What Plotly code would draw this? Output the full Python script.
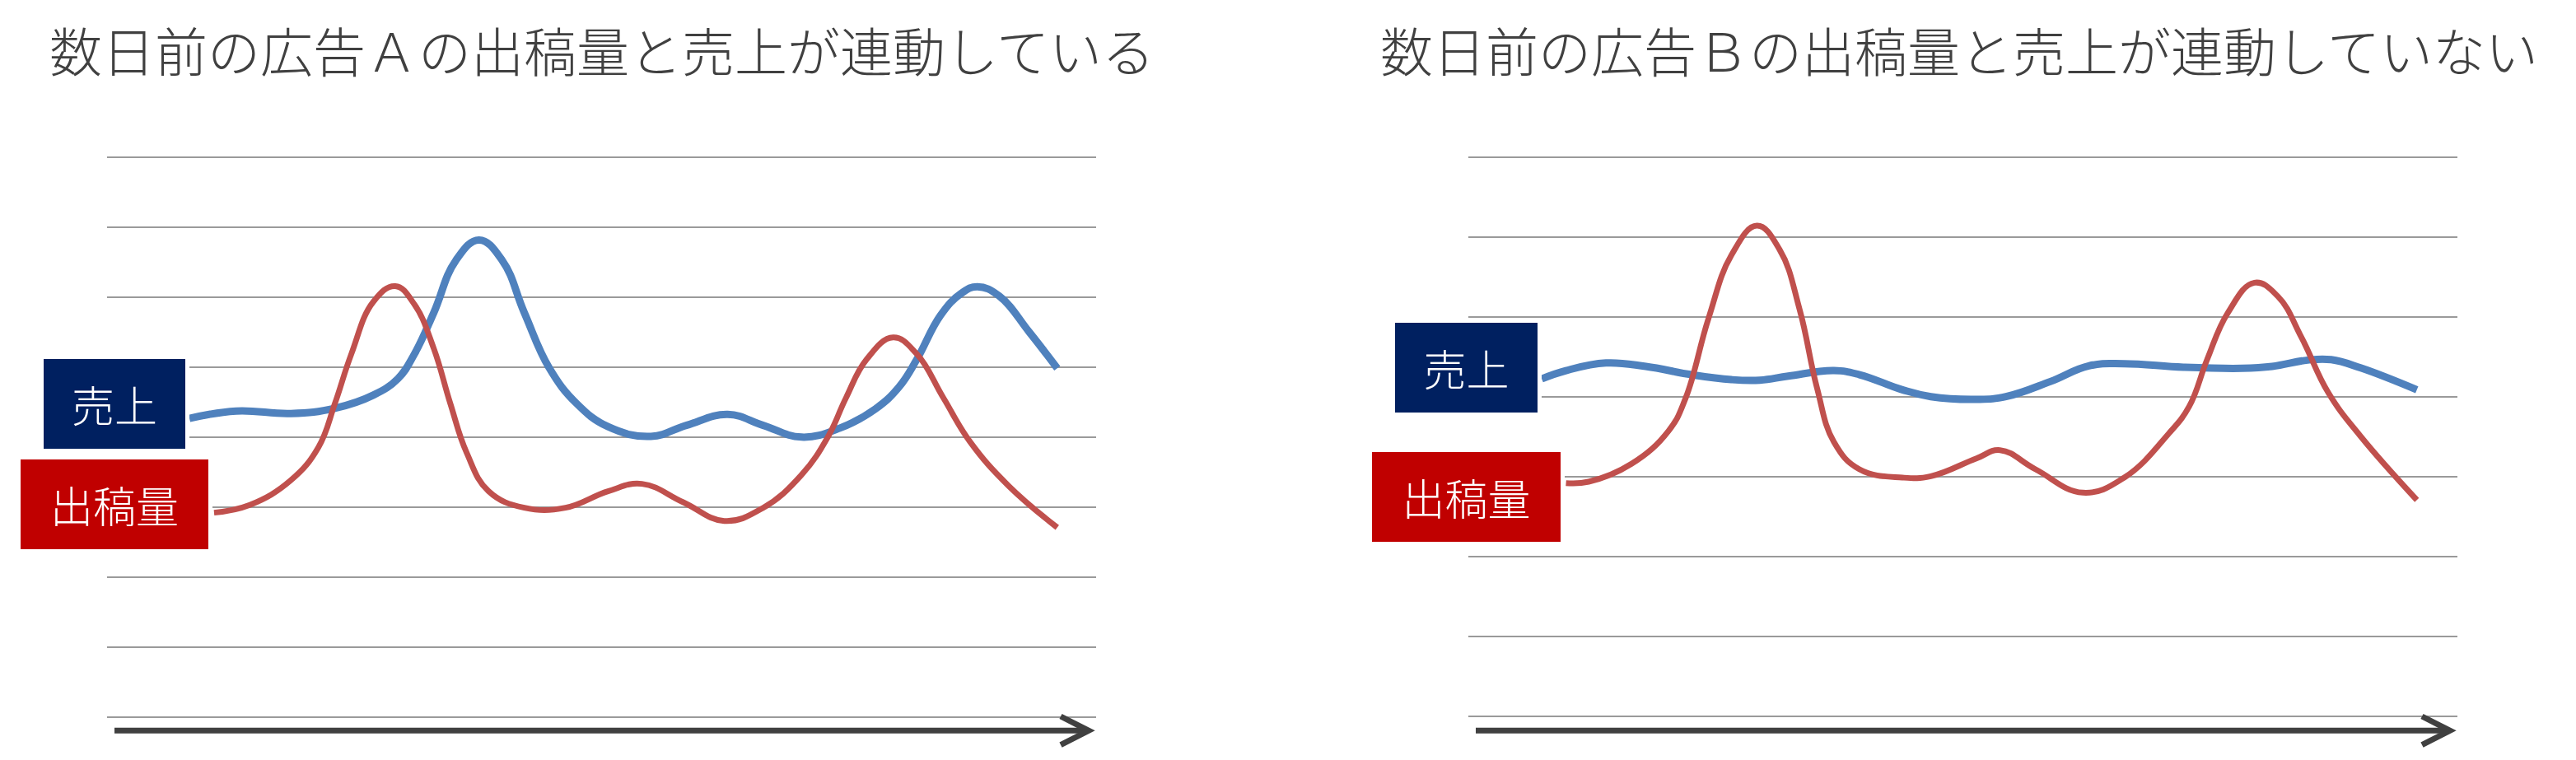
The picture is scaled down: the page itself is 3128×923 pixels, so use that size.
import plotly.graph_objects as go

W, H = 3128, 923
OFF = 8                      # default page body margin of the html page
FW, FH = W - 2 * OFF, H - 2 * OFF

# ---------------- data: time (0-100 of the span) and value (gridline units) ----------------
a_sales_x = [8.33, 13.05, 18.59, 23.03, 26.92, 29.41, 31.08, 33.03, 35.25, 37.61, 39.97, 42.19, 44.69, 47.46,
             50.65, 54.98, 58.56, 62.75, 66.34, 70.22, 74.10, 77.69, 80.08, 81.87, 84.26, 86.34, 88.00, 90.24,
             93.23, 96.07]
a_sales_y = [4.265, 4.371, 4.336, 4.410, 4.598, 4.834, 5.187, 5.776, 6.521, 6.816, 6.521, 5.776, 4.991, 4.481,
             4.147, 4.009, 4.166, 4.324, 4.166, 3.998, 4.127, 4.402, 4.716, 5.108, 5.737, 6.050, 6.149, 6.011,
             5.502, 4.983]
a_ads_x = [10.82, 14.43, 18.59, 21.37, 23.04, 24.70, 26.92, 29.14, 31.08, 33.03, 34.70, 36.36, 38.58, 42.19,
           46.35, 50.65, 54.08, 58.26, 62.41, 66.34, 70.22, 72.91, 74.71, 76.79, 79.48, 81.87, 84.56, 87.26,
           91.14, 96.07]
a_ads_y = [2.918, 3.028, 3.382, 3.853, 4.481, 5.187, 5.933, 6.157, 5.894, 5.266, 4.481, 3.774, 3.224, 2.988,
           2.988, 3.224, 3.330, 3.067, 2.800, 2.988, 3.459, 4.009, 4.559, 5.108, 5.423, 5.187, 4.559, 3.930,
           3.303, 2.706]

b_sales_x = [7.42, 9.87, 13.91, 17.94, 22.55, 26.59, 29.47, 32.35, 36.96, 39.55, 43.88, 46.76, 51.37, 54.36,
             58.84, 62.73, 66.32, 72.30, 78.27, 81.27, 84.85, 87.24, 90.22, 95.90]
b_sales_y = [4.228, 4.331, 4.427, 4.383, 4.280, 4.218, 4.211, 4.262, 4.331, 4.280, 4.091, 4.005, 3.971, 4.005,
             4.194, 4.390, 4.417, 4.373, 4.359, 4.383, 4.462, 4.468, 4.365, 4.091]
b_ads_x = [9.87, 12.17, 16.50, 20.24, 21.97, 24.28, 26.59, 29.18, 31.48, 33.51, 35.23, 36.96, 39.55, 43.88,
           46.76, 51.37, 53.76, 57.35, 62.13, 66.32, 70.80, 72.89, 74.69, 76.78, 79.47, 81.86, 84.25, 86.94,
           90.22, 95.90]
b_ads_y = [2.923, 2.940, 3.164, 3.576, 3.988, 4.984, 5.774, 6.145, 5.843, 5.087, 4.125, 3.438, 3.095, 2.992,
           3.009, 3.232, 3.335, 3.095, 2.803, 2.992, 3.541, 3.885, 4.468, 5.053, 5.431, 5.258, 4.743, 4.056,
           3.507, 2.711]

a_grid_levels = list(range(0, 9))
b_grid_levels = list(range(0, 8))

titles = ["数日前の広告Ａの出稿量と売上が連動している", "数日前の広告Ｂの出稿量と売上が連動していない"]
series_names = ["売上", "出稿量"]

BLUE = "#4F81BD"
RED = "#C0504D"
NAVY_BOX = "#002060"
RED_BOX = "#C00000"
GRID = "#9A9A9A"
ARROW = "#404040"
FONT = "Noto Sans CJK JP"


def px(x):
    return (x - OFF) / FW


def py(y):
    return (FH - (y - OFF)) / FH


fig = go.Figure()

sp = dict(shape="spline", smoothing=1.2)
fig.add_trace(go.Scatter(x=a_sales_x, y=a_sales_y, mode="lines", name=series_names[0],
                         line=dict(color=BLUE, width=9, **sp), xaxis="x", yaxis="y"))
fig.add_trace(go.Scatter(x=a_ads_x, y=a_ads_y, mode="lines", name=series_names[1],
                         line=dict(color=RED, width=7, **sp), xaxis="x", yaxis="y"))
fig.add_trace(go.Scatter(x=b_sales_x, y=b_sales_y, mode="lines", name=series_names[0],
                         line=dict(color=BLUE, width=9, **sp), xaxis="x2", yaxis="y2"))
fig.add_trace(go.Scatter(x=b_ads_x, y=b_ads_y, mode="lines", name=series_names[1],
                         line=dict(color=RED, width=7, **sp), xaxis="x2", yaxis="y2"))

ydom = [py(872.2), py(189.2)]
ax = dict(showticklabels=False, zeroline=False, showline=False, ticks="", fixedrange=True)
fig.update_layout(
    width=FW, height=FH,
    margin=dict(l=0, r=0, t=0, b=0),
    paper_bgcolor="white", plot_bgcolor="white",
    showlegend=False,
    xaxis=dict(domain=[px(130), px(1331)], range=[0, 100], showgrid=False, **ax),
    yaxis=dict(domain=ydom, range=[-0.02, 8.02], tickvals=a_grid_levels,
               showgrid=True, gridcolor=GRID, gridwidth=2.4, **ax),
    xaxis2=dict(domain=[px(1783), px(2984)], range=[0, 100], showgrid=False, anchor="y2", **ax),
    yaxis2=dict(domain=ydom, range=[-0.02, 7.02], tickvals=b_grid_levels, anchor="x2",
                showgrid=True, gridcolor=GRID, gridwidth=2.4, **ax),
)

shapes = []
# time arrows
for x0, tip in [(139, 1322), (1792, 2975)]:
    shapes.append(dict(type="line", xref="paper", yref="paper",
                       x0=px(x0), x1=px(tip - 6), y0=py(887.3), y1=py(887.3),
                       line=dict(color=ARROW, width=7), layer="above"))
    shapes.append(dict(type="path", xref="paper", yref="paper",
                       path=f"M {px(tip-34)} {py(870)} L {px(tip)} {py(887.3)} L {px(tip-34)} {py(904.6)}",
                       line=dict(color=ARROW, width=7), layer="above"))

# white padding around label boxes
for (x0, y0, x1, y1) in [(48, 431, 230, 550), (20, 553, 258, 672),
                         (1689, 390, 1872, 506), (1661, 544, 1900, 663)]:
    shapes.append(dict(type="rect", xref="paper", yref="paper",
                       x0=px(x0), x1=px(x1), y0=py(y1), y1=py(y0),
                       fillcolor="white", line=dict(width=0), layer="above"))
fig.update_layout(shapes=shapes)

annotations = []
for x, t in [(58, titles[0]), (1674, titles[1])]:
    annotations.append(dict(text=t, x=px(x), y=py(59), xref="paper", yref="paper",
                            xanchor="left", yanchor="middle", showarrow=False,
                            font=dict(family=FONT, size=64, color="#404040", weight=300)))

boxes = [
    (53, 436, 172, 109, series_names[0], NAVY_BOX),
    (25, 558, 228, 109, series_names[1], RED_BOX),
    (1694, 392, 173, 109, series_names[0], NAVY_BOX),
    (1666, 549, 229, 109, series_names[1], RED_BOX),
]
for (x, y, w, h, t, c) in boxes:
    annotations.append(dict(text=t, x=px(x), y=py(y), xref="paper", yref="paper",
                            xanchor="left", yanchor="top", showarrow=False,
                            width=w, height=h, bgcolor=c, borderpad=0, borderwidth=0,
                            align="center", valign="middle",
                            font=dict(family=FONT, size=52, color="white", weight=300)))
fig.update_layout(annotations=annotations)

fig.write_html("out.html")
